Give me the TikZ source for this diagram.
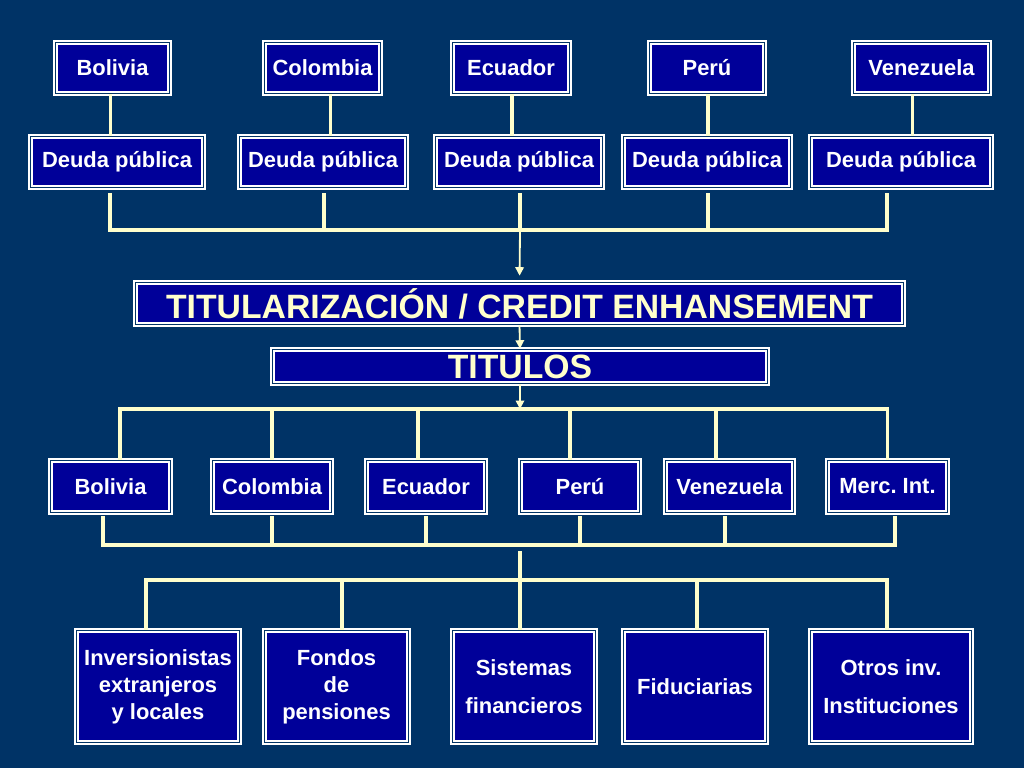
\documentclass[tikz,border=0pt]{standalone}
\usepackage{fontspec}
\setmainfont{Liberation Sans}
\usepackage{xcolor}
\usetikzlibrary{arrows.meta, calc}

\definecolor{fondo}{RGB}{0,51,102}
\definecolor{azul}{RGB}{0,0,153}
\definecolor{crema}{RGB}{255,255,204}
\def\px{0.025cm}

\begin{document}
\begin{tikzpicture}[
    x=\px, y=-\px,
    %% box styles
    caja/.style={
        draw=white, double=fondo, double distance=1.2pt, line width=1.2pt,
        fill=azul, text=white, inner sep=0pt, align=center,
        font=\bfseries\fontsize{15.6}{19.2}\selectfont
    },
    wh/.style 2 args={minimum width=#1*\px-5*\px, minimum height=#2*\px-5*\px},
    grande/.style={caja, text=crema, font=\bfseries\fontsize{24}{28}\selectfont},
    %% connector styles
    link/.style={draw=crema, line width=2.8pt, line join=miter},
    flecha/.style={draw=crema, line width=1.3pt, -{Triangle[length=6pt, width=6pt]}}
]

    %% --- background -------------------------------------------
    \fill[fondo] (0,0) rectangle (1024,768);
    \useasboundingbox (0,0) rectangle (1024,768);

    %% --- countries, top row -----------------------------------
    \node[caja, wh={119}{56}] (top1) at (112.5,68) {Bolivia};
    \node[caja, wh={121}{56}] (top2) at (322.5,68) {Colombia};
    \node[caja, wh={122}{56}] (top3) at (511,68)   {Ecuador};
    \node[caja, wh={120}{56}] (top4) at (707,68)   {Perú};
    \node[caja, wh={141}{56}] (top5) at (921.5,68) {Venezuela};

    %% --- public debt ------------------------------------------
    \node[caja, wh={178}{56}] (deu1) at (117,162) {Deuda pública};
    \node[caja, wh={172}{56}] (deu2) at (323,162) {Deuda pública};
    \node[caja, wh={172}{56}] (deu3) at (519,162) {Deuda pública};
    \node[caja, wh={172}{56}] (deu4) at (707,162) {Deuda pública};
    \node[caja, wh={186}{56}] (deu5) at (901,162) {Deuda pública};

    %% --- securitisation ---------------------------------------
    \node[grande, wh={773}{47}] (titu) at (519.5,303.5) {TITULARIZACIÓN / CREDIT ENHANSEMENT};
    \node[grande, wh={500}{39}] (titulos) at (520,366.5) {TITULOS};

    %% --- markets ----------------------------------------------
    \node[caja, wh={125}{57}] (mer1) at (110.5,486.5) {Bolivia};
    \node[caja, wh={124}{57}] (mer2) at (272,486.5)   {Colombia};
    \node[caja, wh={124}{57}] (mer3) at (426,486.5)   {Ecuador};
    \node[caja, wh={124}{57}] (mer4) at (580,486.5)   {Perú};
    \node[caja, wh={133}{57}] (mer5) at (729.5,486.5) {Venezuela};
    \node[caja, wh={125}{57}] (mer6) at (887.5,486.5) {Merc.\ Int.};

    %% --- investors --------------------------------------------
    \node[caja, wh={168}{117}] (inv1) at (158,686.5)   {Inversionistas\\extranjeros\\y locales};
    \node[caja, wh={149}{117}] (inv2) at (336.5,686.5) {Fondos\\de\\pensiones};
    \node[caja, wh={148}{117}] (inv3) at (524,686.5)   {Sistemas\\[7.8pt]financieros};
    \node[caja, wh={148}{117}] (inv4) at (695,686.5)   {Fiduciarias};
    \node[caja, wh={166}{117}] (inv5) at (891,686.5)   {Otros inv.\\[7.8pt]Instituciones};

    %% --- bus points -------------------------------------------
    \coordinate (bus1) at (520,230);
    \coordinate (bus2) at (520,409);
    \coordinate (bus3) at (520,545);
    \coordinate (bus4) at (520,580);

    %% --- countries -> debt ------------------------------------
    \foreach \n/\dx in {1/-2, 2/8, 3/1, 4/1, 5/-9}
        \draw[link] ([xshift=\dx*\px]top\n.south) -- ([xshift=\dx*\px]top\n.south |- deu\n.north);

    %% --- debt -> securitisation -------------------------------
    \foreach \n/\dx in {1/-7, 2/1, 3/1, 4/1, 5/-14}
        \draw[link] ([xshift=\dx*\px, yshift=-5*\px]deu\n.south) |- (bus1);
    \draw[flecha, shorten >=6*\px] (bus1) -- (titu.north);
    \draw[flecha] (titu.south) -- (titulos.north);
    \draw[flecha] (titulos.south) -- (bus2);

    %% --- securities -> markets --------------------------------
    \foreach \n/\dx in {1/9.5, 2/0, 3/-8, 4/-10, 5/-13.5, 6/0}
        \draw[link] (bus2) -| ([xshift=\dx*\px]mer\n.north);

    %% --- markets -> investors ---------------------------------
    \foreach \n/\dx in {1/-7.5, 2/0, 3/0, 4/0, 5/-4.5, 6/7.5}
        \draw[link] ([xshift=\dx*\px, yshift=-3*\px]mer\n.south) |- (bus3);
    \draw[link] ([yshift=-6*\px]bus3) -- (bus3 |- inv3.north);
    \foreach \n/\dx in {1/-12, 2/5.5, 3/-4, 4/2, 5/-4}
        \draw[link] (bus4) -| ([xshift=\dx*\px]inv\n.north);

\end{tikzpicture}
\end{document}
